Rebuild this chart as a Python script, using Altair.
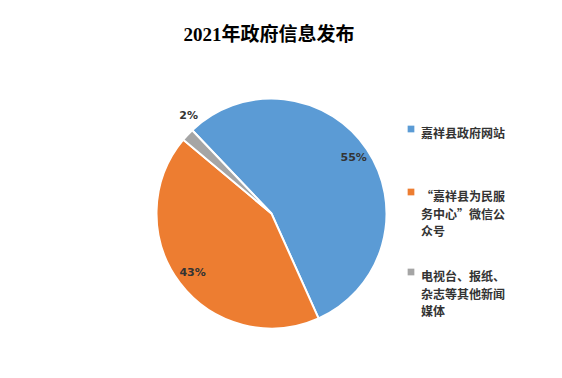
import altair as alt
import pandas as pd
import math

categories = ["嘉祥县政府网站", "“嘉祥县为民服务中心”微信公众号", "电视台、报纸、杂志等其他新闻媒体"]
legend_lines = ["嘉祥县政府网站\n ", "“嘉祥县为民服\n务中心”微信公\n众号", "电视台、报纸、\n杂志等其他新闻\n媒体"]
values = [55.4, 42.8, 1.8]
labels = ["55%", "43%", "2%"]
colors = ["#5B9BD5", "#ED7D31", "#A5A5A5"]

df = pd.DataFrame({
    "cat": legend_lines,
    "value": values,
    "label": labels,
    "order": [0, 1, 2],
})

start = -43.6 * math.pi / 180
theta = alt.Theta("value:Q", stack=True, scale=alt.Scale(range=[start, start + 2 * math.pi]))
color = alt.Color(
    "cat:N",
    sort=legend_lines,
    scale=alt.Scale(domain=legend_lines, range=colors),
    legend=alt.Legend(
        title=None,
        orient="none",
        legendX=405,
        legendY=73,
        symbolType="square",
        symbolSize=45,
        symbolStrokeWidth=0,
        labelFont="Noto Sans CJK SC",
        labelFontSize=12,
        labelFontWeight="bold",
        labelColor="#333333",
        labelExpr="split(datum.label, '\\n')",
        labelBaseline="top",
        labelLimit=200,
        rowPadding=28,
        labelOffset=4,
    ),
)

base = alt.Chart(df).encode(theta=theta, order=alt.Order("order:Q"))

pie = base.mark_arc(outerRadius=115, x=271.5, y=163.5, stroke="white", strokeWidth=2).encode(color=color)

txt_in = base.transform_filter("datum.value >= 5").mark_text(
    radius=99, x=271.5, y=163.5, font="DejaVu Sans", fontSize=11, fontWeight="bold", color="#333333"
).encode(text="label:N")
txt_out = base.transform_filter("datum.value < 5").mark_text(
    radius=128, x=271.5, y=163.5, font="DejaVu Sans", fontSize=11, fontWeight="bold", color="#333333"
).encode(text="label:N")

chart = alt.layer(pie, txt_in, txt_out).properties(
    width=562,
    height=328,
    autosize=alt.AutoSizeParams(type="none"),
    padding={"left": 0, "top": 50, "right": 0, "bottom": 0},
    title=alt.TitleParams(
        "2021年政府信息发布",
        font="Liberation Serif, Noto Sans CJK SC",
        fontSize=19,
        fontWeight="bold",
        color="#000000",
        anchor="middle",
        dx=-12,
        offset=5,
    ),
).configure_view(stroke=None).configure(
    background="white",
    style={"guide-label": {"lineHeight": 17.5}},
)

chart.save("out.html", embed_options={"renderer": "svg", "actions": False})
